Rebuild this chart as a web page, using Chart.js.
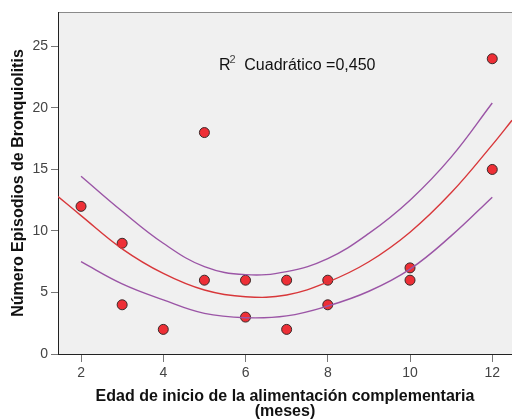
<!DOCTYPE html>
<html>
<head>
<meta charset="utf-8">
<script src="https://cdn.jsdelivr.net/npm/chart.js@4"></script>
<style>
  html, body { margin: 0; padding: 0; background: #fff; }
  #wrap { width: 512px; height: 420px; }
</style>
</head>
<body>
<div id="wrap"><canvas id="grafico" width="512" height="420"></canvas></div>
<script>
// datos observados: edad de inicio (meses) y nº de episodios
const ageX = [2, 3, 3, 4, 5, 5, 6, 6, 7, 7, 8, 8, 10, 10, 12, 12];
const episodes = [12, 9, 4, 2, 18, 6, 6, 3, 6, 2, 6, 4, 7, 6, 24, 15];

// curva cuadrática ajustada
const fitX = [1.44, 2, 3, 4, 5, 6, 7, 8, 9, 10, 11, 12, 12.48];
const fitY = [12.8, 11.25, 8.55, 6.55, 5.2, 4.65, 4.8, 5.85, 7.5, 9.9, 13.1, 17.0, 19.0];

// intervalo de confianza de la media
const ciX = [2, 3, 4, 5, 6, 7, 8, 9, 10, 11, 12];
const ciUpper = [14.45, 11.6, 9.0, 7.1, 6.45, 6.7, 7.75, 9.8, 12.5, 16.0, 20.4];
const ciLower = [7.5, 5.7, 4.4, 3.3, 2.95, 3.1, 3.9, 5.1, 6.9, 9.6, 12.75];

const xTicks = [2, 4, 6, 8, 10, 12];
const yTicks = [0, 5, 10, 15, 20, 25];
const r2Label = 'Cuadrático =0,450';

const FONT = '"Liberation Sans", Arial, sans-serif';

function pairs(xs, ys) {
    return xs.map((x, i) => ({ x: x, y: ys[i] }));
}

// fondo gris del área y texto del R²
const fondoPlugin = {
    id: 'fondo',
    beforeDraw(chart) {
        const { ctx, chartArea: a } = chart;
        ctx.save();
        ctx.fillStyle = '#f0f0f0';
        ctx.fillRect(a.left, a.top, a.right - a.left, a.bottom - a.top);
        ctx.strokeStyle = '#8a8a8a';
        ctx.lineWidth = 1;
        ctx.beginPath();
        ctx.moveTo(a.left, a.top + 0.5);
        ctx.lineTo(a.right, a.top + 0.5);
        ctx.stroke();
        ctx.restore();
    },
    afterDraw(chart) {
        const { ctx, chartArea: a } = chart;
        const x0 = a.left + 161;
        const base = a.top + 57.5;
        ctx.save();
        ctx.textBaseline = 'alphabetic';
        ctx.font = '16px ' + FONT;
        ctx.fillStyle = '#111';
        ctx.fillText('R', x0, base);
        ctx.font = '11px ' + FONT;
        ctx.fillStyle = '#444';
        ctx.fillText('2', x0 + 10.5, base - 6.5);
        ctx.font = '16px ' + FONT;
        ctx.fillStyle = '#111';
        ctx.fillText(r2Label, x0 + 25.3, base);
        ctx.restore();
    }
};

const ctx = document.getElementById('grafico').getContext('2d');
new Chart(ctx, {
    type: 'scatter',
    data: {
        datasets: [
            {
                label: 'Límite inferior',
                type: 'line',
                data: pairs(ciX, ciLower),
                borderColor: '#9b55a6',
                borderWidth: 1.4,
                pointRadius: 0,
                fill: false,
                tension: 0.4
            },
            {
                label: 'Límite superior',
                type: 'line',
                data: pairs(ciX, ciUpper),
                borderColor: '#9b55a6',
                borderWidth: 1.4,
                pointRadius: 0,
                fill: false,
                tension: 0.4
            },
            {
                label: 'Cuadrático',
                type: 'line',
                data: pairs(fitX, fitY),
                borderColor: '#d8373a',
                borderWidth: 1.4,
                pointRadius: 0,
                fill: false,
                tension: 0.4
            },
            {
                label: 'Episodios',
                data: pairs(ageX, episodes),
                backgroundColor: '#ee2f36',
                borderColor: '#3a2a2a',
                borderWidth: 1,
                pointRadius: 5
            }
        ]
    },
    options: {
        responsive: false,
        animation: false,
        layout: { autoPadding: false, padding: { top: 12, right: 0, bottom: 0, left: 0 } },
        plugins: {
            legend: { display: false },
            tooltip: { enabled: false }
        },
        scales: {
            x: {
                type: 'linear',
                min: 1.44,
                max: 12.48,
                afterBuildTicks: s => { s.ticks = xTicks.map(v => ({ value: v })); },
                afterFit: s => { s.height = 66; s.paddingRight = 0; s.paddingLeft = 0; },
                grid: { drawOnChartArea: false, drawTicks: true, tickLength: 8, color: '#777' },
                border: { color: '#222', width: 1 },
                ticks: { color: '#444', padding: 3, font: { family: FONT, size: 14 } },
                title: {
                    display: true,
                    text: ['Edad de inicio de la alimentación complementaria', '(meses)'],
                    color: '#111',
                    font: { family: FONT, size: 16, weight: 'bold', lineHeight: 0.9 },
                    padding: { top: 0, bottom: 1.4 }
                }
            },
            y: {
                min: 0,
                max: 27.8,
                afterBuildTicks: s => { s.ticks = yTicks.map(v => ({ value: v })); },
                afterFit: s => { s.width = 58; },
                grid: { drawOnChartArea: false, drawTicks: true, tickLength: 7, color: '#777' },
                border: { color: '#222', width: 1 },
                ticks: { color: '#444', padding: 3, font: { family: FONT, size: 14 } },
                title: {
                    display: true,
                    text: 'Número Episodios de Bronquiolitis',
                    color: '#111',
                    font: { family: FONT, size: 16, weight: 'bold', lineHeight: 1.2 },
                    padding: { top: 9, bottom: 0 }
                }
            }
        }
    },
    plugins: [fondoPlugin]
});
</script>
</body>
</html>
